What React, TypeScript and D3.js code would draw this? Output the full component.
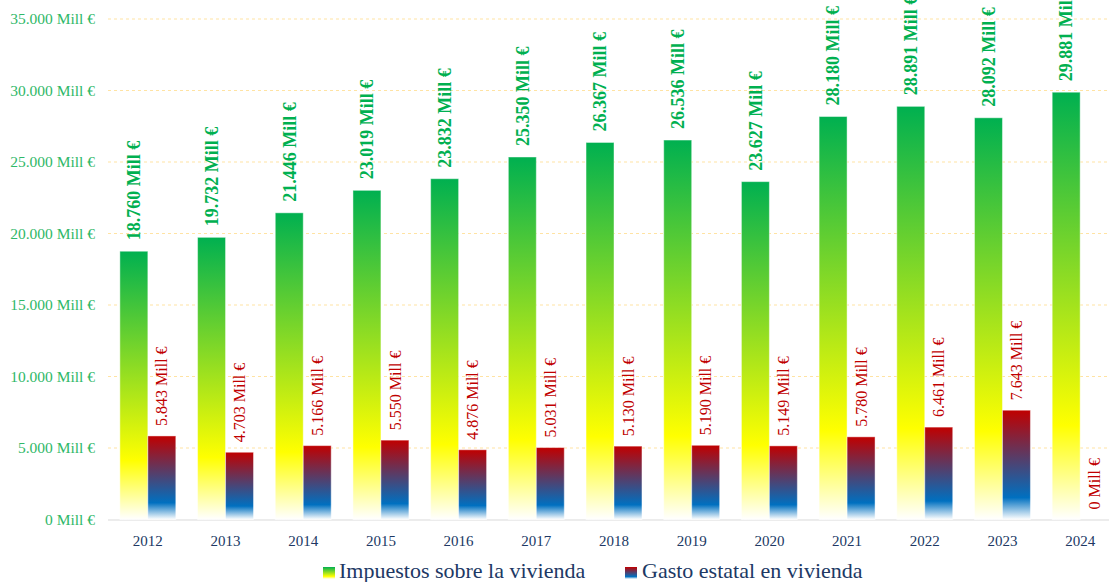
import * as d3 from 'd3';

const years = ['2012', '2013', '2014', '2015', '2016', '2017', '2018', '2019', '2020', '2021', '2022', '2023', '2024'];
const impuestos = [18760, 19732, 21446, 23019, 23832, 25350, 26367, 26536, 23627, 28180, 28891, 28092, 29881];
const gasto = [5843, 4703, 5166, 5550, 4876, 5031, 5130, 5190, 5149, 5780, 6461, 7643, 0];
const yTicks = [0, 5000, 10000, 15000, 20000, 25000, 30000, 35000];
const seriesNames = ['Impuestos sobre la vivienda', 'Gasto estatal en vivienda'];

const W = 1109;
const H = 582;
const FONT = '"Liberation Serif", "Times New Roman", serif';

const fmt = (v: number) => d3.format(',')(v).replace(/,/g, '.') + ' Mill €';

export default function App() {
  const x = d3.scaleBand<string>()
    .domain(years)
    .range([109, 1119])
    .paddingInner(0.28)
    .paddingOuter(0.14);

  const y = d3.scaleLinear().domain([0, 35000]).range([519.5, 19]);

  const sub = d3.scaleBand<number>()
    .domain([0, 1])
    .range([0, x.bandwidth()]);

  const bw = sub.bandwidth();

  return (
    <svg width={W} height={H} style={{ position: 'absolute', left: 0, top: 0, display: 'block', background: '#fff' }}>
      <defs>
        <linearGradient id="gGreen" x1="0" y1="0" x2="0" y2="1">
          <stop offset="0" stopColor="#00b050" />
          <stop offset="0.78" stopColor="#ffff00" />
          <stop offset="1" stopColor="#ffffff" />
        </linearGradient>
        <linearGradient id="gRed" x1="0" y1="0" x2="0" y2="1">
          <stop offset="0" stopColor="#c00000" />
          <stop offset="0.8" stopColor="#0070c0" />
          <stop offset="1" stopColor="#ffffff" />
        </linearGradient>
      </defs>

      {/* grid */}
      {yTicks.filter(t => t > 0).map(t => (
        <line key={t} x1={108} x2={W} y1={y(t)} y2={y(t)}
          stroke="#ffe3a3" strokeWidth={1} strokeDasharray="3,3" />
      ))}
      <line x1={108} x2={W} y1={520} y2={520} stroke="#d9d9d9" strokeWidth={1} />

      {/* y axis labels */}
      {yTicks.map(t => (
        <text key={t} x={95} y={y(t)} dy="0.35em" textAnchor="end"
          fontFamily={FONT} fontSize={15.5} fill="#2fb868">{fmt(t)}</text>
      ))}

      {/* bars */}
      {years.map((yr, i) => {
        const x0 = x(yr) as number;
        const gx = x0 + (sub(0) as number);
        const rx = x0 + (sub(1) as number);
        return (
          <g key={yr}>
            <rect x={gx} y={y(impuestos[i])} width={bw} height={y(0) - y(impuestos[i])}
              fill="url(#gGreen)" stroke="#ffffff" strokeOpacity={0.45} strokeWidth={1} />
            {gasto[i] > 0 && (
              <rect x={rx} y={y(gasto[i])} width={bw} height={y(0) - y(gasto[i])}
                fill="url(#gRed)" stroke="#ffffff" strokeOpacity={0.45} strokeWidth={1} />
            )}
            <text transform={`translate(${gx + bw / 2},${y(impuestos[i]) - 11}) rotate(-90)`}
              dy="0.35em" fontFamily={FONT} fontWeight="bold" fontSize={18} fill="#00b050">
              {fmt(impuestos[i])}
            </text>
            <text transform={`translate(${rx + bw / 2},${y(gasto[i]) - 10}) rotate(-90)`}
              dy="0.35em" fontFamily={FONT} fontSize={16} fill="#c00000">
              {fmt(gasto[i])}
            </text>
            <text x={x0 + x.bandwidth() / 2} y={546} textAnchor="middle"
              fontFamily={FONT} fontSize={15} fill="#203864">{yr}</text>
          </g>
        );
      })}

      {/* legend */}
      <rect x={323} y={567} width={12} height={12} fill="url(#gGreen)" />
      <text x={339} y={578} fontFamily={FONT} fontSize={22} fill="#203864">{seriesNames[0]}</text>
      <rect x={625} y={567} width={12} height={12} fill="url(#gRed)" />
      <text x={642} y={578} fontFamily={FONT} fontSize={22} fill="#203864">{seriesNames[1]}</text>
    </svg>
  );
}
